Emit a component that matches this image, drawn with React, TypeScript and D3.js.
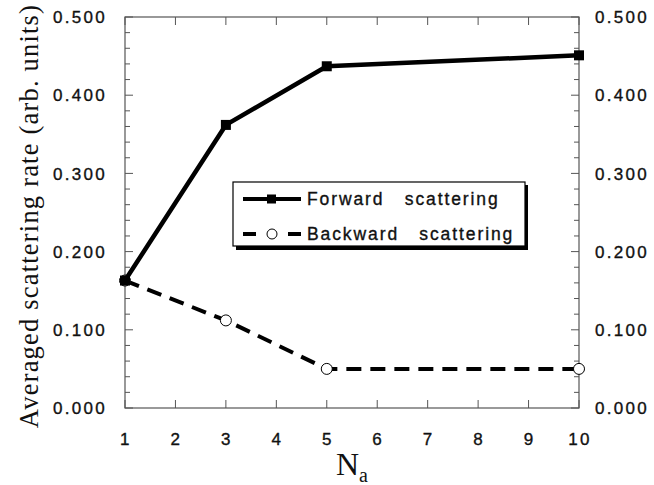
import React from 'react';
import * as d3 from 'd3';

const nValues = [1, 3, 5, 10];
const forwardRates = [0.163, 0.362, 0.437, 0.451];
const backwardRates = [0.163, 0.112, 0.05, 0.05];
const xTicks = [1, 2, 3, 4, 5, 6, 7, 8, 9, 10];
const yMajor = [0, 0.1, 0.2, 0.3, 0.4, 0.5];
const yMinor = d3.range(0, 0.5001, 0.02);

const W = 654;
const H = 485;
const margin = { left: 125, right: 75, top: 17, bottom: 77 };

const App = () => {
  const x = d3.scaleLinear().domain([1, 10]).range([margin.left, W - margin.right]);
  const y = d3.scaleLinear().domain([0, 0.5]).range([H - margin.bottom, margin.top]);
  const x0 = x.range()[0], x1 = x.range()[1];
  const y0 = y.range()[0], y1 = y.range()[1];

  const line = d3.line<number>()
    .x((_, i) => x(nValues[i]))
    .y(d => y(d));

  const sans = 'Liberation Sans, Arial, sans-serif';
  const serif = 'Liberation Serif, Times New Roman, serif';
  const axisColor = '#555';
  // scanned print: heavier ink, so a thin stroke on the glyphs
  const tickFont = { fontFamily: sans, fontSize: 17, letterSpacing: 2.3, fill: '#111', stroke: '#111', strokeWidth: 0.35 };

  return (
    <svg width={W} height={H} style={{ position: 'absolute', left: 0, top: 0, background: '#fff' }}>
      {/* frame */}
      <rect x={x0} y={y1} width={x1 - x0} height={y0 - y1} fill="none" stroke={axisColor} strokeWidth={1.2} />

      {/* y ticks, left and right, inward */}
      {yMinor.map((v, i) => {
        const major = i % 5 === 0;
        const len = major ? 8 : 5;
        return (
          <g key={'yt' + i} stroke={axisColor} strokeWidth={1}>
            <line x1={x0} x2={x0 + len} y1={y(v)} y2={y(v)} />
            <line x1={x1} x2={x1 - len} y1={y(v)} y2={y(v)} />
          </g>
        );
      })}

      {/* x ticks, bottom and top, inward */}
      {xTicks.map(t => (
        <g key={'xt' + t} stroke={axisColor} strokeWidth={1}>
          <line x1={x(t)} x2={x(t)} y1={y0} y2={y0 - 8} />
          <line x1={x(t)} x2={x(t)} y1={y1} y2={y1 + 8} />
        </g>
      ))}

      {/* y tick labels */}
      {yMajor.map(v => (
        <g key={'yl' + v} {...tickFont}>
          <text x={x0 - 18} y={y(v)} dy="0.36em" textAnchor="end">{v.toFixed(3)}</text>
          <text x={x1 + 16} y={y(v)} dy="0.36em" textAnchor="start">{v.toFixed(3)}</text>
        </g>
      ))}

      {/* x tick labels */}
      {xTicks.map(t => (
        <text key={'xl' + t} x={x(t) + 1} y={y0 + 37} textAnchor="middle" {...tickFont}>
          {t}
        </text>
      ))}

      {/* axis titles */}
      <text x={(x0 + x1) / 2} y={H - 10} textAnchor="middle" fontFamily={serif} fontSize={32} fill="#111">
        N<tspan fontSize={20} dy={7}>a</tspan>
      </text>
      <text
        transform={`translate(38, 216) rotate(-90)`}
        textAnchor="middle"
        fontFamily={serif}
        fontSize={26.5}
        letterSpacing={1.2}
        fill="#111"
      >
        Averaged scattering rate (arb. units)
      </text>

      {/* backward series */}
      <path d={line(backwardRates) || ''} fill="none" stroke="#000" strokeWidth={4} strokeDasharray="15 9" />
      {backwardRates.map((v, i) => (
        <circle key={'bc' + i} cx={x(nValues[i])} cy={y(v)} r={5.5} fill="#fff" stroke="#000" strokeWidth={1} />
      ))}

      {/* forward series */}
      <path d={line(forwardRates) || ''} fill="none" stroke="#000" strokeWidth={4.5} />
      {forwardRates.map((v, i) => (
        <rect key={'fs' + i} x={x(nValues[i]) - 5} y={y(v) - 5} width={10} height={10} fill="#000" />
      ))}

      {/* legend */}
      <g>
        <rect x={236} y={185} width={292} height={65} fill="#000" />
        <rect x={233} y={182} width={292} height={64} fill="#fff" stroke="#000" strokeWidth={1.2} />
        <line x1={243} x2={301} y1={199} y2={199} stroke="#000" strokeWidth={4} />
        <rect x={267} y={194.5} width={9} height={9} fill="#000" />
        <text x={307} y={199} dy="0.36em" {...tickFont} letterSpacing={1.9} fontSize={17.5} style={{ whiteSpace: 'pre' }}>
          {'Forward   scattering'}
        </text>
        <line x1={243} x2={256} y1={234} y2={234} stroke="#000" strokeWidth={4} />
        <line x1={288} x2={301} y1={234} y2={234} stroke="#000" strokeWidth={4} />
        <circle cx={272} cy={234} r={5} fill="#fff" stroke="#000" strokeWidth={1} />
        <text x={307} y={234} dy="0.36em" {...tickFont} letterSpacing={1.9} fontSize={17.5} style={{ whiteSpace: 'pre' }}>
          {'Backward   scattering'}
        </text>
      </g>
    </svg>
  );
};

export default App;
